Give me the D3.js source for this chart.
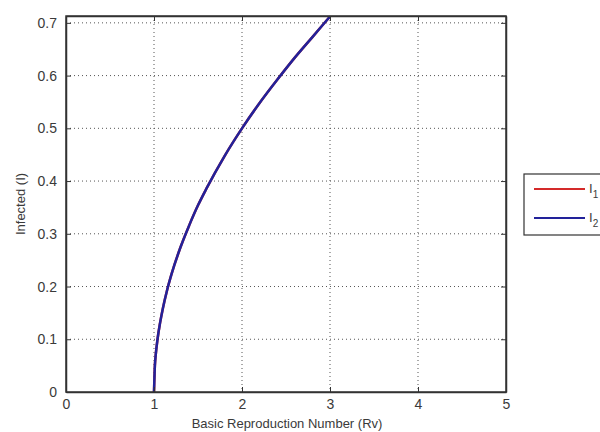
<!DOCTYPE html>
<html>
<head>
<meta charset="utf-8">
<script src="https://cdn.jsdelivr.net/npm/d3@7"></script>
<style>
  body { margin: 0; background: #fff; }
  text { font-family: "Liberation Sans", Arial, sans-serif; fill: #3a3a3a; }
</style>
</head>
<body>
<svg id="chart" width="600" height="432"></svg>
<script>
// values
var rv = [1, 1.01, 1.02, 1.04, 1.07, 1.1, 1.15, 1.2, 1.3, 1.4, 1.5, 1.6, 1.8, 2.0, 2.2, 2.4, 2.6, 2.8, 3.0];
var i1 = [0, 0.05, 0.071, 0.1, 0.132, 0.158, 0.194, 0.224, 0.274, 0.316, 0.354, 0.387, 0.447, 0.5, 0.548, 0.592, 0.634, 0.673, 0.712];
var i2 = [0, 0.05, 0.071, 0.1, 0.132, 0.158, 0.194, 0.224, 0.274, 0.316, 0.354, 0.387, 0.447, 0.5, 0.548, 0.592, 0.634, 0.673, 0.712];
var xTicks = [0, 1, 2, 3, 4, 5];
var yTicks = [0, 0.1, 0.2, 0.3, 0.4, 0.5, 0.6, 0.7];
var seriesNames = ["1", "2"];
var seriesColors = ["#d42a2a", "#22229a"];

svg = d3.select("#chart");

var padL = 66, padR = 506, padT = 16, padB = 392;

x = d3.scaleLinear().domain([0, 5]).range([padL, padR]);
y = d3.scaleLinear().domain([0, 0.713]).range([padB, padT]);

// grid
var grid = svg.append("g").attr("stroke", "#555").attr("stroke-width", 1).attr("stroke-dasharray", "1,3");
grid.selectAll(".gx").data(xTicks.slice(1, -1)).enter().append("line")
  .attr("x1", function(d) { return x(d); }).attr("x2", function(d) { return x(d); })
  .attr("y1", padT).attr("y2", padB);
grid.selectAll(".gy").data(yTicks.slice(1)).enter().append("line")
  .attr("y1", function(d) { return y(d); }).attr("y2", function(d) { return y(d); })
  .attr("x1", padL).attr("x2", padR);

// curves (I1 under I2)
var line = d3.line()
  .x(function(d, k) { return x(rv[k]); })
  .y(function(d) { return y(d); })
  .curve(d3.curveMonotoneX);

[i1, i2].forEach(function(s, k) {
  svg.append("path").datum(s)
    .attr("d", line)
    .attr("fill", "none")
    .attr("stroke", seriesColors[k])
    .attr("stroke-width", 2.5);
});

// axes, ticks inward
svg.append("g").attr("transform", "translate(0," + padB + ")")
  .call(d3.axisBottom(x).tickValues(xTicks).tickFormat(d3.format("d")).tickSizeInner(-5).tickSizeOuter(0).tickPadding(7));
svg.append("g").attr("transform", "translate(" + padL + ",0)")
  .call(d3.axisLeft(y).tickValues(yTicks).tickFormat(function(d) { return d === 0 ? "0" : d3.format(".1f")(d); }).tickSizeInner(-5).tickSizeOuter(0).tickPadding(9));
svg.append("g").attr("transform", "translate(0," + padT + ")")
  .call(d3.axisTop(x).tickValues(xTicks).tickFormat("").tickSizeInner(-5).tickSizeOuter(0));
svg.append("g").attr("transform", "translate(" + padR + ",0)")
  .call(d3.axisRight(y).tickValues(yTicks).tickFormat("").tickSizeInner(-5).tickSizeOuter(0));

svg.selectAll(".domain").attr("stroke", "#333").attr("stroke-width", 1.5);
svg.selectAll(".tick line").attr("stroke", "#333");
svg.selectAll(".tick text").attr("font-size", 14).style("fill", "#3a3a3a");

svg.append("rect").attr("x", padL).attr("y", padT).attr("width", padR - padL).attr("height", padB - padT)
  .attr("fill", "none").attr("stroke", "#333").attr("stroke-width", 1.5);

// labels
svg.append("text").attr("x", 287).attr("y", 428)
  .attr("text-anchor", "middle").attr("font-size", 13)
  .text("Basic Reproduction Number (Rv)");
svg.append("text").attr("transform", "translate(25," + (padT + padB) / 2 + ") rotate(-90)")
  .attr("text-anchor", "middle").attr("font-size", 13)
  .text("Infected (I)");

// legend
var lg = svg.append("g");
lg.append("rect").attr("x", 524).attr("y", 174).attr("width", 90).attr("height", 61)
  .attr("fill", "#fff").attr("stroke", "#333").attr("stroke-width", 1.2);
seriesNames.forEach(function(n, k) {
  var yy = 189 + k * 29;
  lg.append("line").attr("x1", 534).attr("x2", 585).attr("y1", yy).attr("y2", yy)
    .attr("stroke", seriesColors[k]).attr("stroke-width", 2);
  var t = lg.append("text").attr("x", 589).attr("y", yy + 4).attr("font-size", 13);
  t.append("tspan").text("I");
  t.append("tspan").attr("font-size", 10).attr("dy", 5).text(n);
});
</script>
</body>
</html>
